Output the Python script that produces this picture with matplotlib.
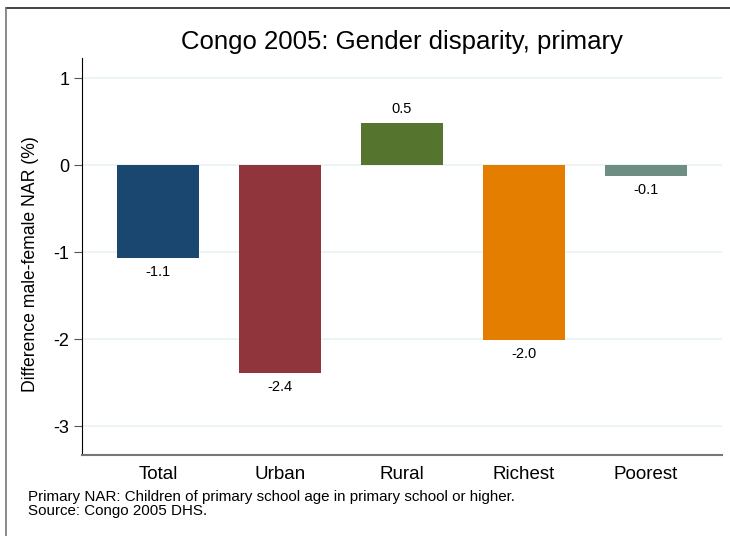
import matplotlib.pyplot as plt
from matplotlib.lines import Line2D
import numpy as np

plt.rcParams['font.family'] = ['Liberation Sans', 'DejaVu Sans']
plt.rcParams['axes.unicode_minus'] = False

categories = ['Total', 'Urban', 'Rural', 'Richest', 'Poorest']
values = [-1.07, -2.39, 0.48, -2.01, -0.13]
labels = ['-1.1', '-2.4', '0.5', '-2.0', '-0.1']
colors = ['#1a476f', '#90353b', '#55752f', '#e37e00', '#6e8e84']

fig = plt.figure(figsize=(7.3, 5.36), dpi=100)
ax = fig.add_axes([82/730, 1 - 455/536, (722-82)/730, (455-58)/536])

x = np.arange(len(categories))
ax.bar(x, values, width=0.67, color=colors, zorder=3)

for xi, v, lab in zip(x, values, labels):
    if v >= 0:
        ax.text(xi, v + 0.08, lab, ha='center', va='bottom', fontsize=10.5)
    else:
        ax.text(xi, v - 0.08, lab, ha='center', va='top', fontsize=10.5)

ax.set_xlim(-0.625, 4.625)
ax.set_ylim(-3.33, 1.23)
ax.set_yticks([-3, -2, -1, 0, 1])
ax.set_xticks(x)
ax.set_xticklabels(categories, fontsize=13.5)
ax.tick_params(axis='y', labelsize=13, length=6, pad=3, color='#555555')
ax.tick_params(axis='x', length=0, pad=8)
ax.grid(axis='y', color='#eaf2f3', linewidth=1.2, zorder=0)

for s in ['top', 'right']:
    ax.spines[s].set_visible(False)
ax.spines['bottom'].set_color('#777777')
ax.spines['bottom'].set_linewidth(1.5)

ax.set_ylabel('Difference male-female NAR (%)', fontsize=12.7)
ax.yaxis.set_label_coords(-0.067, 0.481)

fig.text(0.55, 1 - 42/536, 'Congo 2005: Gender disparity, primary', ha='center', va='center', fontsize=18.5)
fig.text(28/730, 1 - 497/536, 'Primary NAR: Children of primary school age in primary school or higher.',
         ha='left', va='center', fontsize=10.9)
fig.text(28/730, 1 - 511/536, 'Source: Congo 2005 DHS.', ha='left', va='center', fontsize=10.9)

# outer frame
fig.add_artist(Line2D([6/730, 1], [1 - 8/536, 1 - 8/536], color='#222222', linewidth=1.2))
fig.add_artist(Line2D([6/730, 6/730], [0, 1 - 8/536], color='#777777', linewidth=1.2))

fig.savefig('out.png', dpi=100)
